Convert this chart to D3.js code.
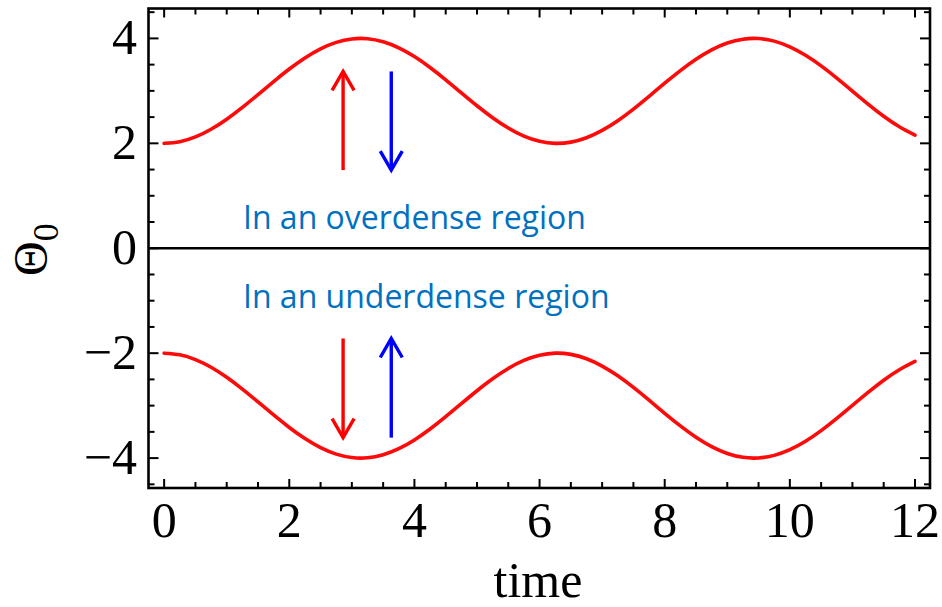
<!DOCTYPE html>
<html>
<head>
<meta charset="utf-8">
<script src="https://cdn.jsdelivr.net/npm/d3@7"></script>
<style>
  html, body { margin: 0; padding: 0; background: #fff; }
  svg { display: block; }
</style>
</head>
<body>
<svg id="chart" width="942" height="607"></svg>
<script>
// Sample times along the horizontal axis
const time = [0, 0.25, 0.5, 0.75, 1, 1.25, 1.5, 1.75, 2, 2.25, 2.5, 2.75, 3, 3.25, 3.5, 3.75,
  4, 4.25, 4.5, 4.75, 5, 5.25, 5.5, 5.75, 6, 6.25, 6.5, 6.75, 7, 7.25, 7.5, 7.75,
  8, 8.25, 8.5, 8.75, 9, 9.25, 9.5, 9.75, 10, 10.25, 10.5, 10.75, 11, 11.25, 11.5, 11.75, 12];
// Θ0 in an overdense region
const overdense = [2.000, 2.031, 2.122, 2.268, 2.460, 2.685, 2.929, 3.178, 3.416, 3.628, 3.801, 3.924, 3.990, 3.994, 3.936, 3.821,
  3.654, 3.446, 3.211, 2.962, 2.716, 2.488, 2.291, 2.138, 2.040, 2.000, 2.023, 2.107, 2.246, 2.431, 2.653, 2.896,
  3.146, 3.386, 3.602, 3.781, 3.911, 3.985, 3.997, 3.948, 3.839, 3.678, 3.476, 3.243, 2.996, 2.748, 2.515, 2.315, 2.156];
// Θ0 in an underdense region
const underdense = [-2.000, -2.031, -2.122, -2.268, -2.460, -2.685, -2.929, -3.178, -3.416, -3.628, -3.801, -3.924, -3.990, -3.994, -3.936, -3.821,
  -3.654, -3.446, -3.211, -2.962, -2.716, -2.488, -2.291, -2.138, -2.040, -2.000, -2.023, -2.107, -2.246, -2.431, -2.653, -2.896,
  -3.146, -3.386, -3.602, -3.781, -3.911, -3.985, -3.997, -3.948, -3.839, -3.678, -3.476, -3.243, -2.996, -2.748, -2.515, -2.315, -2.156];

const xTicks = [0, 2, 4, 6, 8, 10, 12];
const yTicks = [-4, -2, 0, 2, 4];
const xMinorTicks = d3.range(0, 12.01, 0.5);
const yMinorTicks = d3.range(-4.5, 4.51, 0.5);

// Arrows: x position, start and end value, colour
const arrowX    = [2.86, 3.63, 2.86, 3.63];
const arrowFrom = [1.49, 3.37, -1.72, -3.61];
const arrowTo   = [3.37, 1.49, -3.61, -1.72];
const arrowColor = ["#ff0000", "#0000ff", "#ff0000", "#0000ff"];

const notes = ["In an overdense region", "In an underdense region"];
const noteX = [1.26, 1.26];
const noteY = [0.36, -1.14];

const svg = d3.select("#chart");
const plotLeft = 148.5, plotRight = 930, plotTop = 8.5, plotBottom = 488;

const x = d3.scaleLinear().domain([-0.25, 12.24]).range([plotLeft, plotRight]);
const y = d3.scaleLinear().domain([-4.57, 4.57]).range([plotBottom, plotTop]);

const serif = "'Liberation Serif', 'Times New Roman', serif";

// Tick marks on all four sides, pointing inward
const g = svg.append("g");
function fmt(v) { return v < 0 ? "\u2212" + Math.abs(v) : String(v); }

const xMajorSet = new Set(xTicks);
xMinorTicks.forEach(v => {
  const len = xMajorSet.has(v) ? 9 : 6;
  g.append("line").attr("x1", x(v)).attr("x2", x(v)).attr("y1", plotBottom).attr("y2", plotBottom - len)
    .attr("stroke", "#000").attr("stroke-width", 2);
  g.append("line").attr("x1", x(v)).attr("x2", x(v)).attr("y1", plotTop).attr("y2", plotTop + len)
    .attr("stroke", "#000").attr("stroke-width", 2);
});
const yMajorSet = new Set(yTicks);
yMinorTicks.forEach(v => {
  const len = yMajorSet.has(v) ? 10 : 6;
  g.append("line").attr("y1", y(v)).attr("y2", y(v)).attr("x1", plotLeft).attr("x2", plotLeft + len)
    .attr("stroke", "#000").attr("stroke-width", 2);
  g.append("line").attr("y1", y(v)).attr("y2", y(v)).attr("x1", plotRight).attr("x2", plotRight - len)
    .attr("stroke", "#000").attr("stroke-width", 2);
});

// Tick labels
g.selectAll("text.xl").data(xTicks).join("text")
  .attr("class", "xl")
  .attr("x", d => x(d)).attr("y", 537)
  .attr("text-anchor", "middle")
  .attr("font-family", serif).attr("font-size", 50)
  .attr("fill", "#000")
  .text(d => fmt(d));

g.selectAll("text.yl").data(yTicks).join("text")
  .attr("class", "yl")
  .attr("x", 137).attr("y", d => y(d) + 16)
  .attr("text-anchor", "end")
  .attr("font-family", serif).attr("font-size", 50)
  .attr("fill", "#000")
  .text(d => fmt(d));

// Zero line
g.append("line").attr("x1", plotLeft).attr("x2", plotRight).attr("y1", y(0)).attr("y2", y(0))
  .attr("stroke", "#000").attr("stroke-width", 2.4);

// Curves
const line = d3.line().x(d => x(d[0])).y(d => y(d[1])).curve(d3.curveNatural);
[overdense, underdense].forEach(series => {
  svg.append("path")
    .datum(time.map((t, i) => [t, series[i]]))
    .attr("d", line)
    .attr("fill", "none")
    .attr("stroke", "#ff0a0a")
    .attr("stroke-width", 3.6)
    .attr("stroke-linecap", "round");
});

// Arrows with open chevron heads
arrowX.forEach((ax, i) => {
  const px = x(ax), y0 = y(arrowFrom[i]), y1 = y(arrowTo[i]);
  const dir = y1 < y0 ? 1 : -1;
  const col = arrowColor[i];
  const ag = svg.append("g").attr("stroke", col).attr("stroke-width", 3.4).attr("fill", "none");
  ag.append("line").attr("x1", px).attr("x2", px).attr("y1", y0).attr("y2", y1);
  ag.append("path")
    .attr("stroke-linejoin", "miter")
    .attr("d", `M${px - 11},${y1 + dir * 19} L${px},${y1} L${px + 11},${y1 + dir * 19}`);
});

// Region notes
notes.forEach((t, i) => {
  svg.append("text")
    .attr("x", x(noteX[i])).attr("y", y(noteY[i]))
    .attr("font-family", "'Open Sans', 'Noto Sans', sans-serif")
    .attr("font-size", 32)
    .attr("fill", "#0070c0")
    .text(t);
});

// Frame
svg.append("rect")
  .attr("x", plotLeft).attr("y", plotTop).attr("width", plotRight - plotLeft).attr("height", plotBottom - plotTop)
  .attr("fill", "none").attr("stroke", "#000").attr("stroke-width", 2.6);

// Axis titles
svg.append("text")
  .attr("x", 538).attr("y", 597)
  .attr("text-anchor", "middle")
  .attr("font-family", serif).attr("font-size", 50)
  .attr("fill", "#000")
  .text("time");

const yt = svg.append("text")
  .attr("transform", "translate(47,276) rotate(-90)")
  .attr("font-family", serif).attr("font-size", 48)
  .attr("fill", "#000");
yt.append("tspan").text("\u0398");
yt.append("tspan").attr("font-size", 36).attr("dy", 11).text("0");
</script>
</body>
</html>
